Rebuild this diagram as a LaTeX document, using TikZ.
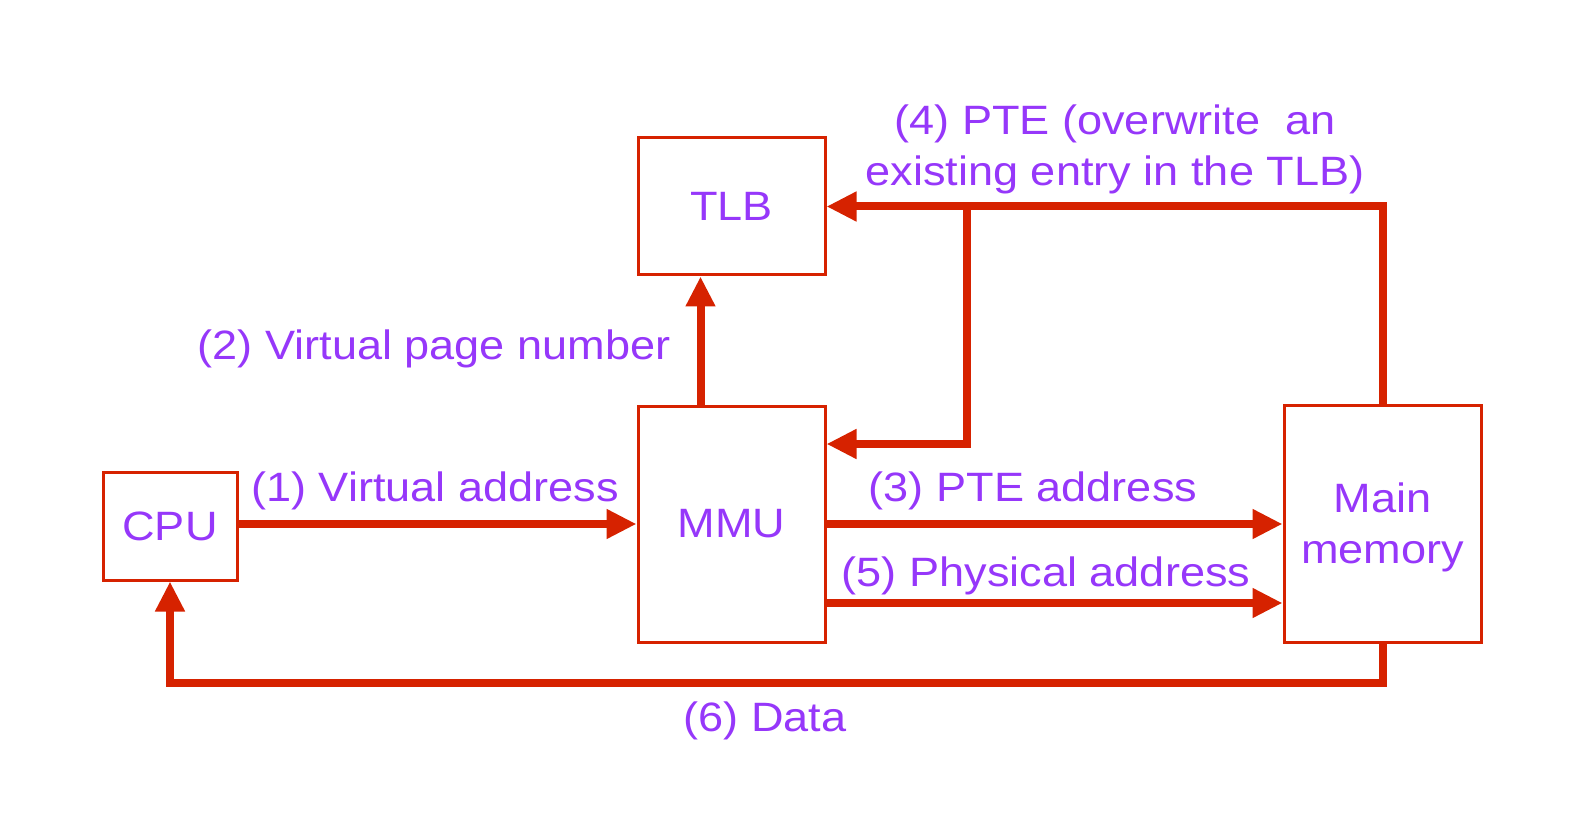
\documentclass[tikz,border=0pt]{standalone}
\usepackage{fontspec}
\setmainfont{Liberation Sans}[FakeStretch=1.1]
\usetikzlibrary{arrows.meta,calc}
\definecolor{linered}{RGB}{214,34,0}
\definecolor{txtpurple}{RGB}{150,55,250}
\tikzset{
  box/.style={draw=linered, line width=1.5pt, fill=none, inner sep=0pt, text=txtpurple, align=center,
    font=\fontsize{20.5}{25.5}\selectfont},
  arr/.style={draw=linered, line width=4pt, -{Triangle[length=15pt,width=14pt]}},
  lbl/.style={text=txtpurple, inner sep=0pt, align=center, font=\fontsize{20.5}{25.5}\selectfont}
}
\begin{document}
\begin{tikzpicture}[x=0.5pt,y=-0.5pt]
\useasboundingbox (0,0) rectangle (1578,828);
\node[box, minimum width=67pt, minimum height=54pt] (cpu) at (170,526) {CPU};
\node[box, minimum width=93.5pt, minimum height=118pt] (mmu) at (731.5,524) {MMU};
\node[box, minimum width=93.5pt, minimum height=68.5pt] (tlb) at (731.5,206.5) {TLB};
\node[box, minimum width=98.5pt, minimum height=118.5pt, text depth=0pt] (main) at (1382.5,523.5) {Main\\memory};

% (1)
\draw[arr] ([yshift=1pt]cpu.east) -- ([yshift=1pt]cpu.east -| mmu.west);
% (2)
\draw[arr] ([xshift=32pt]mmu.north west) -- ([xshift=32pt]mmu.north west |- tlb.south);
% (3)
\draw[arr] (mmu.east) -- (mmu.east -| main.west);
% (5)
\draw[arr] ([yshift=-39.5pt]mmu.east) -- ([yshift=-39.5pt]mmu.east -| main.west);
% (4)
\draw[arr] (main.north) -- (main.north |- tlb.east) -- (tlb.east);
\coordinate (br) at (967,206.5);
\draw[arr] (br) |- ([yshift=40pt]mmu.east);
% (6)
\coordinate (dl) at (1382.5,683);
\draw[arr] (main.south) -- (dl) -| (cpu.south);

% labels
\node[lbl] (l1) at (435,491) {(1) Virtual address};
\node[lbl, anchor=east] (l2) at (671,349) {(2) Virtual page number};
\node[lbl] (l3) at (1033,491) {(3) PTE address};
\node[lbl] (l5) at (1046,576) {(5) Physical address};
\node[lbl] (l4) at (1115,149) {(4) PTE (overwrite\ \ an\\existing entry in the TLB)};
\node[lbl] (l6) at (765,721) {(6) Data};
\end{tikzpicture}
\end{document}
